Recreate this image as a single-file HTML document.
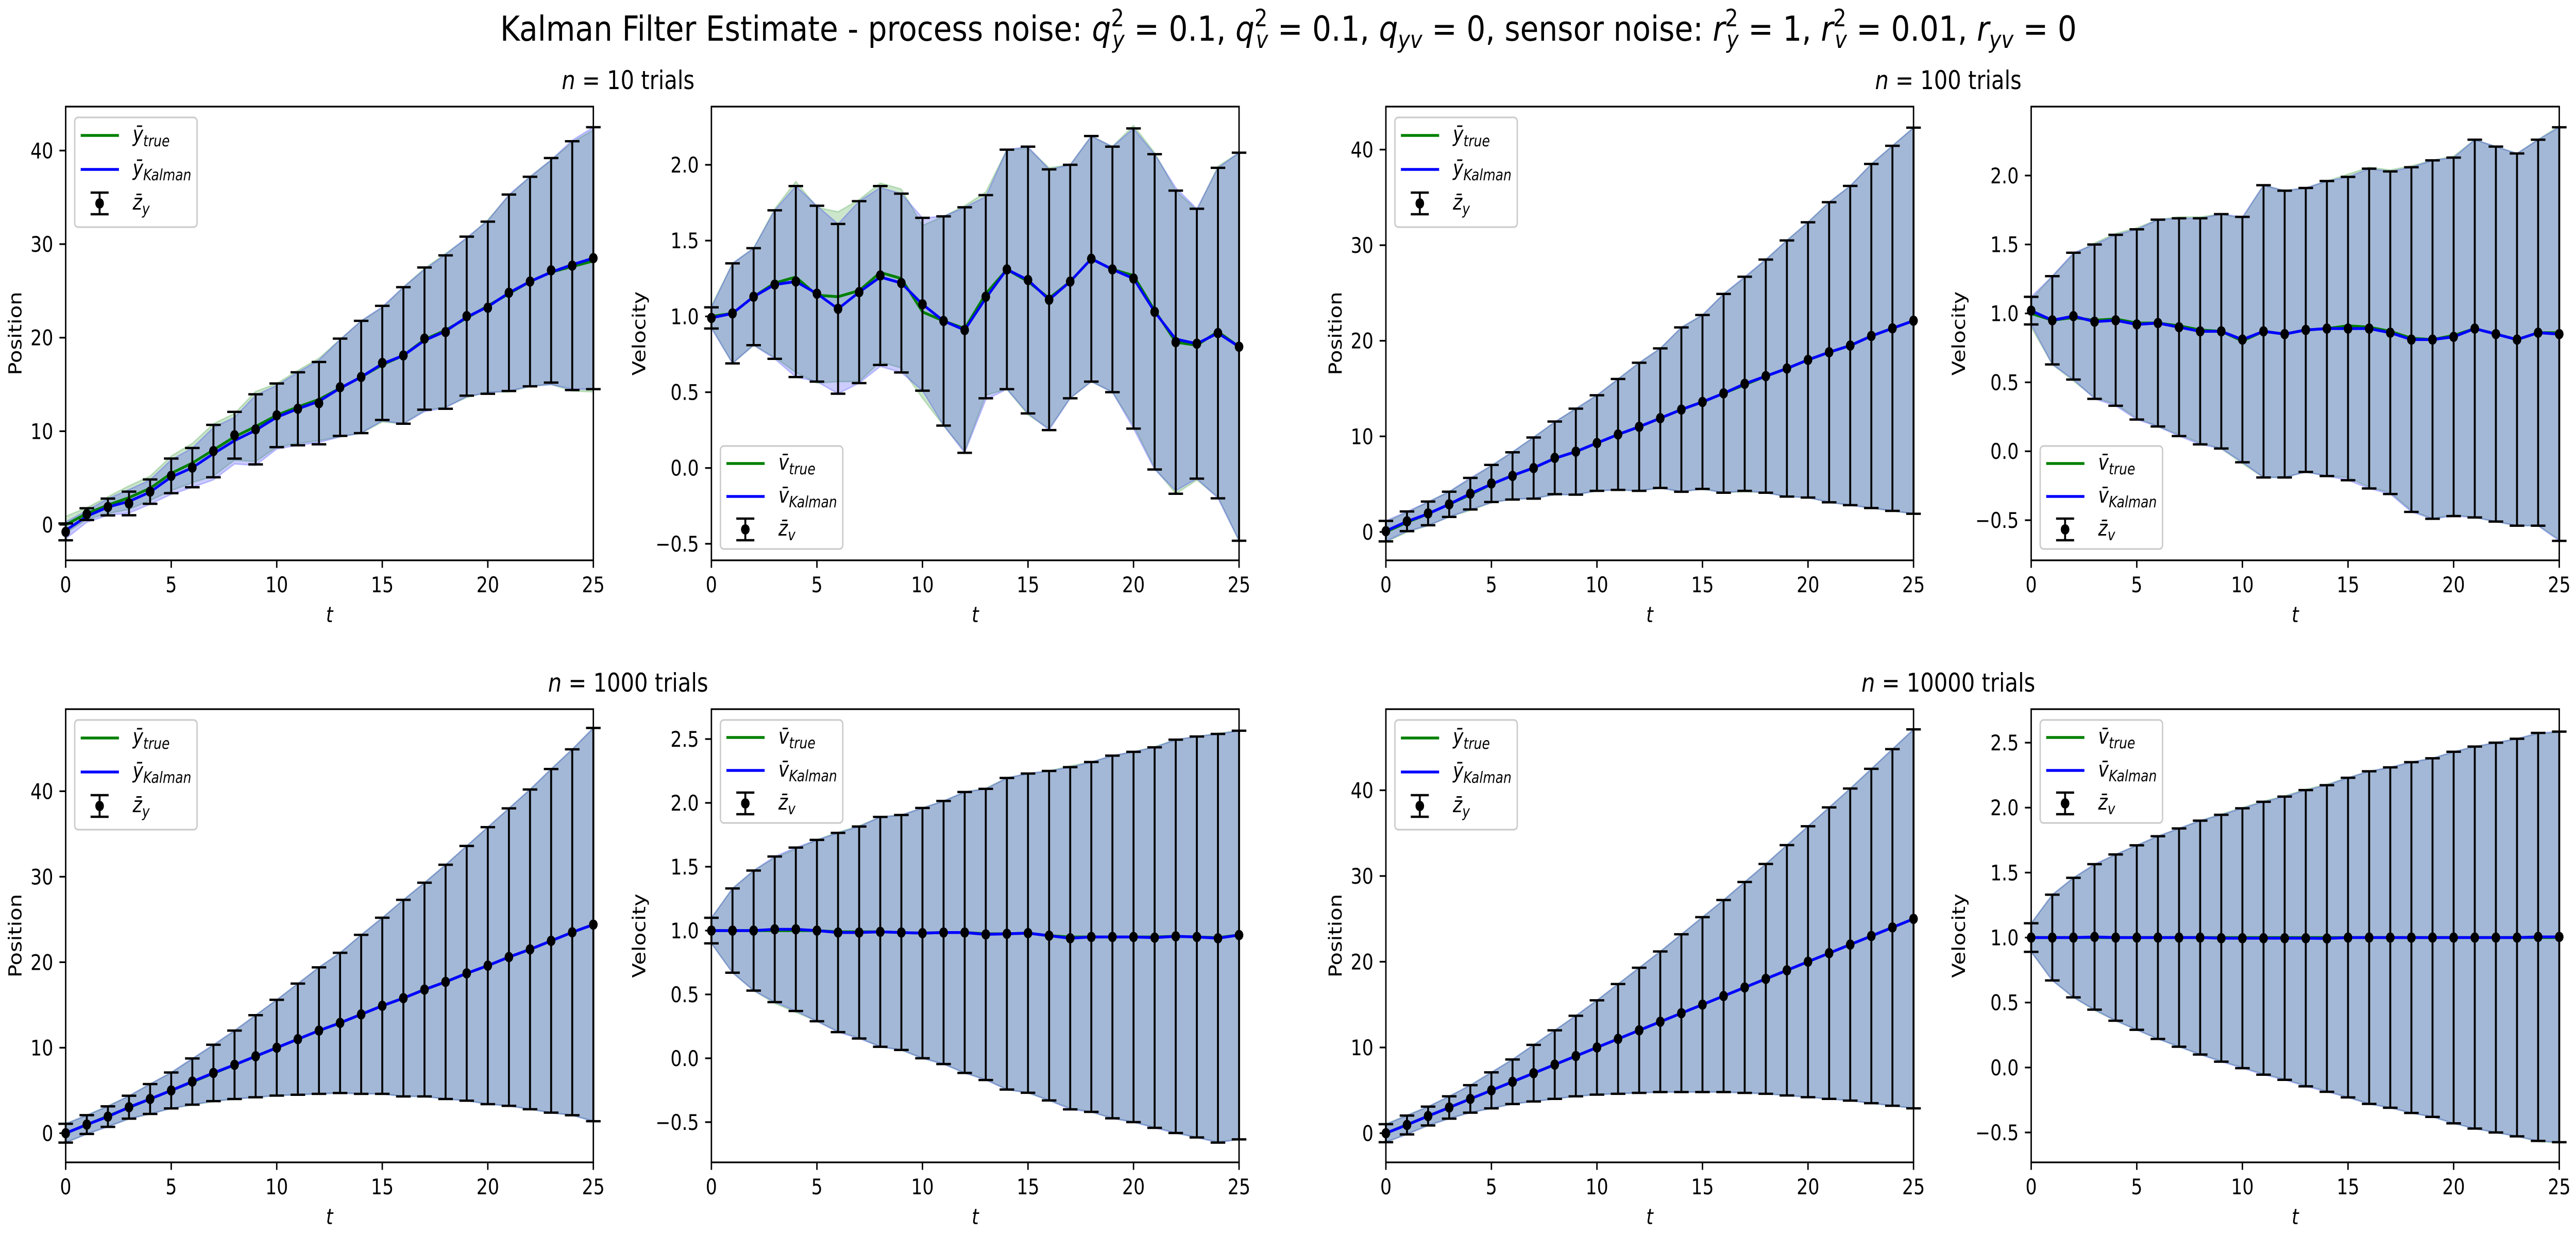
<!DOCTYPE html>
<html><head><meta charset="utf-8"><style>
html,body{margin:0;padding:0;background:#fff;overflow:hidden;width:100vw;height:100vh;}
svg{display:block;width:100vw;height:100vh;font-family:"DejaVu Sans","Liberation Sans",sans-serif;}
</style></head><body>
<svg id="fig" viewBox="0 0 6000 2400" preserveAspectRatio="none" xmlns="http://www.w3.org/2000/svg">
<rect width="6000" height="2400" fill="#fff"/>
<text x="3001" y="79" text-anchor="middle" font-size="67" textLength="3672" lengthAdjust="spacingAndGlyphs">Kalman Filter Estimate - process noise: <tspan font-style="italic">q</tspan><tspan font-size="46" dy="-28">2</tspan><tspan font-size="46" font-style="italic" dx="-26" dy="42">y</tspan><tspan dy="-14"> = 0.1, </tspan><tspan font-style="italic">q</tspan><tspan font-size="46" dy="-28">2</tspan><tspan font-size="46" font-style="italic" dx="-26" dy="42">v</tspan><tspan dy="-14"> = 0.1, </tspan><tspan font-style="italic">q</tspan><tspan font-size="46" font-style="italic" dy="14">yv</tspan><tspan dy="-14"> = 0, sensor noise: </tspan><tspan font-style="italic">r</tspan><tspan font-size="46" dy="-28">2</tspan><tspan font-size="46" font-style="italic" dx="-26" dy="42">y</tspan><tspan dy="-14"> = 1, </tspan><tspan font-style="italic">r</tspan><tspan font-size="46" dy="-28">2</tspan><tspan font-size="46" font-style="italic" dx="-26" dy="42">v</tspan><tspan dy="-14"> = 0.01, </tspan><tspan font-style="italic">r</tspan><tspan font-size="46" font-style="italic" dy="14">yv</tspan><tspan dy="-14"> = 0</tspan></text>
<text x="1463" y="173" text-anchor="middle" font-size="50"><tspan font-style="italic">n</tspan> = 10 trials</text>
<text x="4538" y="173" text-anchor="middle" font-size="50"><tspan font-style="italic">n</tspan> = 100 trials</text>
<text x="1463" y="1343" text-anchor="middle" font-size="50"><tspan font-style="italic">n</tspan> = 1000 trials</text>
<text x="4538" y="1343" text-anchor="middle" font-size="50"><tspan font-style="italic">n</tspan> = 10000 trials</text>
</svg>
<script>
const timeSteps = [0,1,2,3,4,5,6,7,8,9,10,11,12,13,14,15,16,17,18,19,20,21,22,23,24,25];
const xTicks = [0,5,10,15,20,25];
const posTicks = [0,10,20,30,40];
const velTicks = [-0.5,0,0.5,1.0,1.5,2.0];
const velTicks2 = [-0.5,0,0.5,1.0,1.5,2.0,2.5];

// n=10 position
const p1Z = [-0.76,1.14,1.90,2.28,3.54,5.23,6.11,7.88,9.57,10.2,11.7,12.4,13.0,14.7,15.8,17.3,18.1,19.9,20.6,22.3,23.2,24.8,26.0,27.2,27.7,28.5];
const p1Err = [0.9,0.63,0.9,1.26,1.3,1.85,2.1,2.8,2.5,3.75,3.4,3.9,4.4,5.2,6.0,6.1,7.3,7.6,8.2,8.5,9.2,10.5,11.2,12.0,13.3,14.0];
const p1True = [0,1.2,2.1,2.9,3.9,5.5,6.6,8.0,9.4,10.5,11.7,12.6,13.4,14.6,15.8,17.1,18.1,19.8,20.8,22.1,23.4,24.7,26.0,27.0,27.6,28.2];
const p1Kal = [-0.6,0.9,1.9,2.5,3.5,5.1,6.1,7.6,9.0,10.1,11.5,12.4,13.2,14.6,15.8,17.2,18.1,19.7,20.7,22.2,23.3,24.8,26.0,27.0,27.8,28.5];
// n=10 velocity
const p2Z = [0.99,1.02,1.13,1.21,1.23,1.15,1.05,1.16,1.27,1.22,1.08,0.97,0.91,1.13,1.31,1.24,1.11,1.23,1.38,1.31,1.25,1.03,0.83,0.82,0.89,0.80];
const p2Err = [0.07,0.33,0.32,0.49,0.63,0.58,0.56,0.6,0.59,0.59,0.57,0.69,0.81,0.67,0.79,0.88,0.86,0.77,0.81,0.81,0.99,1.04,1.0,0.89,1.09,1.28];
const p2True = [1.0,1.02,1.13,1.22,1.26,1.14,1.13,1.17,1.29,1.25,1.03,0.97,0.92,1.15,1.31,1.23,1.12,1.23,1.38,1.31,1.27,1.04,0.83,0.81,0.90,0.80];
const p2Kal = [0.99,1.02,1.13,1.21,1.23,1.15,1.05,1.16,1.26,1.22,1.08,0.97,0.91,1.12,1.31,1.24,1.11,1.23,1.38,1.31,1.25,1.03,0.85,0.82,0.89,0.80];
// n=100 position
const p3Z = [0.08,1.11,1.94,2.89,4.0,5.07,5.86,6.68,7.75,8.4,9.3,10.2,11.0,11.9,12.8,13.6,14.5,15.5,16.3,17.1,18.0,18.8,19.5,20.5,21.3,22.1];
const p3Err = [1.07,1.03,1.24,1.32,1.65,1.94,2.47,3.2,3.8,4.5,5.0,5.8,6.7,7.3,8.6,9.1,10.4,11.2,12.2,13.4,14.4,15.7,16.7,18.0,19.1,20.2];
const p3True = [0,1.0,1.9,2.9,3.9,5.0,5.9,6.7,7.7,8.4,9.3,10.2,11.0,11.9,12.8,13.6,14.5,15.4,16.3,17.1,18.0,18.8,19.5,20.5,21.3,22.1];
const p3Kal = [0.1,1.1,1.9,2.9,4.0,5.0,5.9,6.7,7.7,8.4,9.3,10.2,11.0,11.9,12.8,13.6,14.5,15.5,16.3,17.1,18.0,18.8,19.5,20.5,21.3,22.1];
// n=100 velocity
const p4Z = [1.02,0.95,0.98,0.94,0.95,0.92,0.93,0.90,0.87,0.87,0.81,0.87,0.85,0.88,0.89,0.89,0.89,0.86,0.81,0.81,0.83,0.89,0.85,0.81,0.86,0.85];
const p4Err = [0.10,0.32,0.46,0.56,0.62,0.69,0.75,0.79,0.82,0.85,0.89,1.06,1.04,1.03,1.07,1.10,1.16,1.17,1.25,1.30,1.30,1.37,1.36,1.35,1.40,1.50];
const p4True = [1.0,0.95,0.97,0.95,0.96,0.93,0.93,0.91,0.88,0.87,0.80,0.87,0.85,0.88,0.89,0.91,0.90,0.87,0.82,0.81,0.84,0.89,0.85,0.81,0.86,0.86];
const p4Kal = [1.02,0.95,0.98,0.94,0.95,0.92,0.93,0.90,0.87,0.87,0.81,0.87,0.85,0.88,0.89,0.89,0.89,0.86,0.81,0.81,0.83,0.89,0.85,0.81,0.86,0.85];
// n=1000 position
const p5Z = [0,1.01,1.94,3.04,4.0,5.0,6.04,7.05,8.0,9.0,10.0,11.0,12.0,12.9,13.9,14.9,15.8,16.8,17.7,18.7,19.6,20.6,21.5,22.5,23.5,24.4];
const p5Err = [1.1,1.1,1.2,1.34,1.75,2.1,2.7,3.3,4.0,4.8,5.6,6.5,7.4,8.2,9.3,10.3,11.5,12.5,13.7,14.9,16.2,17.4,18.7,20.1,21.4,23.0];
const p5True = [0,1.0,2.0,3.0,4.0,5.0,6.0,7.0,8.0,9.0,10.0,11.0,12.0,12.9,13.9,14.9,15.8,16.8,17.7,18.7,19.6,20.6,21.5,22.5,23.5,24.4];
const p5Kal = [0,1.01,1.94,3.04,4.0,5.0,6.04,7.05,8.0,9.0,10.0,11.0,12.0,12.9,13.9,14.9,15.8,16.8,17.7,18.7,19.6,20.6,21.5,22.5,23.5,24.4];
// n=1000 velocity
const p6Z = [1.0,1.0,1.0,1.01,1.01,1.0,0.985,0.985,0.99,0.985,0.98,0.985,0.985,0.97,0.975,0.98,0.96,0.94,0.95,0.95,0.95,0.945,0.955,0.95,0.94,0.965];
const p6Err = [0.1,0.33,0.47,0.57,0.64,0.71,0.78,0.83,0.90,0.92,0.98,1.03,1.10,1.14,1.22,1.25,1.29,1.34,1.37,1.42,1.45,1.49,1.54,1.57,1.60,1.60];
const p6True = [1.0,1.0,1.0,1.0,1.0,1.0,0.99,0.99,0.99,0.985,0.98,0.985,0.985,0.975,0.975,0.98,0.96,0.95,0.95,0.95,0.95,0.95,0.955,0.95,0.945,0.965];
const p6Kal = [1.0,1.0,1.0,1.01,1.01,1.0,0.985,0.985,0.99,0.985,0.98,0.985,0.985,0.97,0.975,0.98,0.96,0.94,0.95,0.95,0.95,0.945,0.955,0.95,0.94,0.965];
// n=10000 position
const p7Z = [0,0.96,2.0,3.0,4.0,5.0,6.0,7.0,8.0,9.0,10.0,11.0,12.0,13.0,14.0,15.0,16.0,17.0,18.0,19.0,20.0,21.0,22.0,23.0,24.0,25.0];
const p7Err = [1.05,1.1,1.1,1.3,1.6,2.1,2.6,3.3,4.0,4.7,5.5,6.4,7.3,8.2,9.2,10.2,11.2,12.3,13.4,14.6,15.8,17.0,18.2,19.5,20.8,22.1];
const p7True = [0,1.0,2.0,3.0,4.0,5.0,6.0,7.0,8.0,9.0,10.0,11.0,12.0,13.0,14.0,15.0,16.0,17.0,18.0,19.0,20.0,21.0,22.0,23.0,24.0,25.0];
const p7Kal = [0,0.97,2.0,3.0,4.0,5.0,6.0,7.0,8.0,9.0,10.0,11.0,12.0,13.0,14.0,15.0,16.0,17.0,18.0,19.0,20.0,21.0,22.0,23.0,24.0,25.0];
// n=10000 velocity
const p8Z = [1.0,1.0,1.0,1.005,1.0,1.0,1.0,1.0,1.0,0.995,0.995,0.995,0.995,0.995,0.993,1.0,1.0,1.0,1.0,1.0,1.0,1.0,1.0,1.0,1.005,1.005];
const p8Err = [0.11,0.33,0.46,0.56,0.64,0.71,0.78,0.84,0.90,0.95,1.0,1.05,1.09,1.14,1.18,1.23,1.28,1.31,1.35,1.38,1.43,1.47,1.50,1.53,1.57,1.58];
const p8True = [1.0,1.0,1.0,1.0,1.0,1.0,1.0,1.0,1.0,1.0,1.0,1.0,1.0,1.0,1.0,1.0,1.0,1.0,1.0,1.0,1.0,1.0,1.0,1.0,1.0,1.0];
const p8Kal = [1.0,1.0,1.0,1.005,1.0,1.0,1.0,1.0,1.0,0.995,0.995,0.995,0.995,0.995,0.993,1.0,1.0,1.0,1.0,1.0,1.0,1.0,1.0,1.0,1.005,1.005];

const NS = "http://www.w3.org/2000/svg";
const svg = document.getElementById('fig');
function mk(tag, attrs, parent) {
  const e = document.createElementNS(NS, tag);
  for (const k in attrs) e.setAttribute(k, attrs[k]);
  (parent || svg).appendChild(e);
  return e;
}

const panels = [
  {id:'pos-n10', L:153, T:207, W:1229, H:881, ymin:-3.8, ymax:44.7, ticks:posTicks, dec:0, lab:'Position', sym:'y', leg:'top', z:p1Z, e:p1Err, tr:p1True, ka:p1Kal},
  {id:'vel-n10', L:1657, T:207, W:1229, H:881, ymin:-0.609, ymax:2.384, ticks:velTicks, dec:1, lab:'Velocity', sym:'v', leg:'bottom', z:p2Z, e:p2Err, tr:p2True, ka:p2Kal},
  {id:'pos-n100', L:3228, T:207, W:1229, H:881, ymin:-2.97, ymax:44.5, ticks:posTicks, dec:0, lab:'Position', sym:'y', leg:'top', z:p3Z, e:p3Err, tr:p3True, ka:p3Kal},
  {id:'vel-n100', L:4731, T:207, W:1230, H:881, ymin:-0.791, ymax:2.5, ticks:velTicks, dec:1, lab:'Velocity', sym:'v', leg:'bottom', z:p4Z, e:p4Err, tr:p4True, ka:p4Kal},
  {id:'pos-n1000', L:153, T:1377, W:1229, H:880, ymin:-3.41, ymax:49.6, ticks:posTicks, dec:0, lab:'Position', sym:'y', leg:'top', z:p5Z, e:p5Err, tr:p5True, ka:p5Kal},
  {id:'vel-n1000', L:1657, T:1377, W:1229, H:880, ymin:-0.815, ymax:2.734, ticks:velTicks2, dec:1, lab:'Velocity', sym:'v', leg:'top', z:p6Z, e:p6Err, tr:p6True, ka:p6Kal},
  {id:'pos-n10000', L:3228, T:1377, W:1229, H:880, ymin:-3.4, ymax:49.46, ticks:posTicks, dec:0, lab:'Position', sym:'y', leg:'top', z:p7Z, e:p7Err, tr:p7True, ka:p7Kal},
  {id:'vel-n10000', L:4731, T:1377, W:1230, H:880, ymin:-0.73, ymax:2.758, ticks:velTicks2, dec:1, lab:'Velocity', sym:'v', leg:'top', z:p8Z, e:p8Err, tr:p8True, ka:p8Kal}
];

function fmt(v, dec) {
  const s = v.toFixed(dec);
  return v < 0 ? '\u2212' + s.slice(1) : s;
}

panels.forEach(p => {
  const xs = t => p.L + (t - 0) / 25 * p.W;
  const ys = v => p.T + (p.ymax - v) / (p.ymax - p.ymin) * p.H;
  const g = mk('g', {});
  
  
  const clipId = 'clip-' + p.id;
  const cp = mk('clipPath', {id: clipId}, g);
  mk('rect', {x:p.L, y:p.T, width:p.W, height:p.H}, cp);
  const plot = mk('g', {'clip-path':'url(#' + clipId + ')'}, g);

  function band(center, col, name) {
    let up = '', dn = '';
    timeSteps.forEach((t, i) => { up += (i ? 'L' : 'M') + xs(t).toFixed(1) + ',' + ys(center[i] + p.e[i]).toFixed(1); });
    for (let i = timeSteps.length - 1; i >= 0; i--) dn += 'L' + xs(timeSteps[i]).toFixed(1) + ',' + ys(center[i] - p.e[i]).toFixed(1);
    const b = mk('path', {d: up + dn + 'Z', fill: col, 'fill-opacity': 0.2, stroke: col, 'stroke-opacity': 0.2, 'stroke-width': 3}, plot);
    
    
  }
  band(p.tr, '#008000', 'true-band');
  band(p.ka, '#0000ff', 'kalman-band');

  function line(vals, col, name) {
    let d = '';
    timeSteps.forEach((t, i) => { d += (i ? 'L' : 'M') + xs(t).toFixed(1) + ',' + ys(vals[i]).toFixed(1); });
    const l = mk('path', {d: d, fill: 'none', stroke: col, 'stroke-width': 5.5, 'stroke-linejoin': 'round'}, plot);
    
    
  }
  line(p.tr, '#008000', 'true-line');
  line(p.ka, '#0000ff', 'kalman-line');

  const eg = mk('g', {}, g);
  
  
  timeSteps.forEach((t, i) => {
    const x = xs(t), y1 = ys(p.z[i] + p.e[i]), y2 = ys(p.z[i] - p.e[i]);
    mk('line', {x1:x, x2:x, y1:y1, y2:y2, stroke:'#000', 'stroke-width':4.5}, eg);
    mk('line', {x1:x-17, x2:x+17, y1:y1, y2:y1, stroke:'#000', 'stroke-width':4.5}, eg);
    mk('line', {x1:x-17, x2:x+17, y1:y2, y2:y2, stroke:'#000', 'stroke-width':4.5}, eg);
    const c = mk('circle', {cx:x, cy:ys(p.z[i]), r:10, fill:'#000'}, eg);
    
    
  });

  const sp = mk('rect', {x:p.L, y:p.T, width:p.W, height:p.H, fill:'none', stroke:'#000', 'stroke-width':3.3}, g);
  
  

  xTicks.forEach(t => {
    const x = xs(t), yb = p.T + p.H;
    mk('line', {x1:x, x2:x, y1:yb, y2:yb + 14.6, stroke:'#000', 'stroke-width':3.3}, g);
    const tl = mk('text', {x:x, y:yb + 62, 'text-anchor':'middle', 'font-size':41.7}, g);
    tl.textContent = String(t);
    
    
  });
  const xl = mk('text', {x:p.L + p.W / 2, y:p.T + p.H + 120, 'text-anchor':'middle', 'font-size':41.7, 'font-style':'italic'}, g);
  xl.textContent = 't';
  
  

  p.ticks.forEach(v => {
    const y = ys(v);
    mk('line', {x1:p.L - 14.6, x2:p.L, y1:y, y2:y, stroke:'#000', 'stroke-width':3.3}, g);
    const tl = mk('text', {x:p.L - 29, y:y + 15, 'text-anchor':'end', 'font-size':41.7}, g);
    tl.textContent = fmt(v, p.dec);
    
    
  });
  const off = p.dec ? 169 : 118;
  const cx = p.L - off + 15, cy = p.T + p.H / 2;
  const yl = mk('text', {x:cx, y:cy, 'text-anchor':'middle', 'font-size':41.7, transform:'rotate(-90 ' + cx + ' ' + cy + ')'}, g);
  yl.textContent = p.lab;
  
  

  const lh = p.sym === 'y' ? 213 : 200;
  const lx = p.L + 21;
  const ly = p.leg === 'top' ? p.T + 21 : p.T + p.H - 22 - lh;
  const lg = mk('g', {}, g);
  
  
  mk('rect', {x:lx, y:ly, width:285, height:lh, rx:8, fill:'#fff', 'fill-opacity':0.8, stroke:'#cccccc', 'stroke-width':3.3}, lg);
  const rows = p.sym === 'y' ? [35, 101, 167] : [34, 98, 162];
  const base = p.sym === 'y' ? '\u0233' : 'v\u0304';
  const entries = [
    {col:'#008000', sub:'true', name:'legend-entry-true'},
    {col:'#0000ff', sub:'Kalman', name:'legend-entry-kalman'},
    {col:null, sub:p.sym, name:'legend-entry-measurement'}
  ];
  entries.forEach((en, k) => {
    const ry = ly + rows[k];
    const eg2 = mk('g', {}, lg);
    
    
    if (en.col) {
      mk('line', {x1:lx + 14, x2:lx + 103, y1:ry, y2:ry, stroke:en.col, 'stroke-width':5.5}, eg2);
    } else {
      const mx = lx + 58;
      mk('line', {x1:mx, x2:mx, y1:ry - 21, y2:ry + 21, stroke:'#000', 'stroke-width':4.5}, eg2);
      mk('line', {x1:mx - 21, x2:mx + 21, y1:ry - 21, y2:ry - 21, stroke:'#000', 'stroke-width':4.5}, eg2);
      mk('line', {x1:mx - 21, x2:mx + 21, y1:ry + 21, y2:ry + 21, stroke:'#000', 'stroke-width':4.5}, eg2);
      mk('circle', {cx:mx, cy:ry, r:10, fill:'#000'}, eg2);
    }
    const tx = mk('text', {x:lx + 135, y:ry + 12, 'font-size':41.7, 'font-style':'italic'}, eg2);
    const t1 = mk('tspan', {}, tx);
    t1.textContent = en.col ? base : 'z\u0304';
    const t2 = mk('tspan', {'font-size':30, dy:9}, tx);
    t2.textContent = en.sub;
  });
});
</script>
</body></html>
